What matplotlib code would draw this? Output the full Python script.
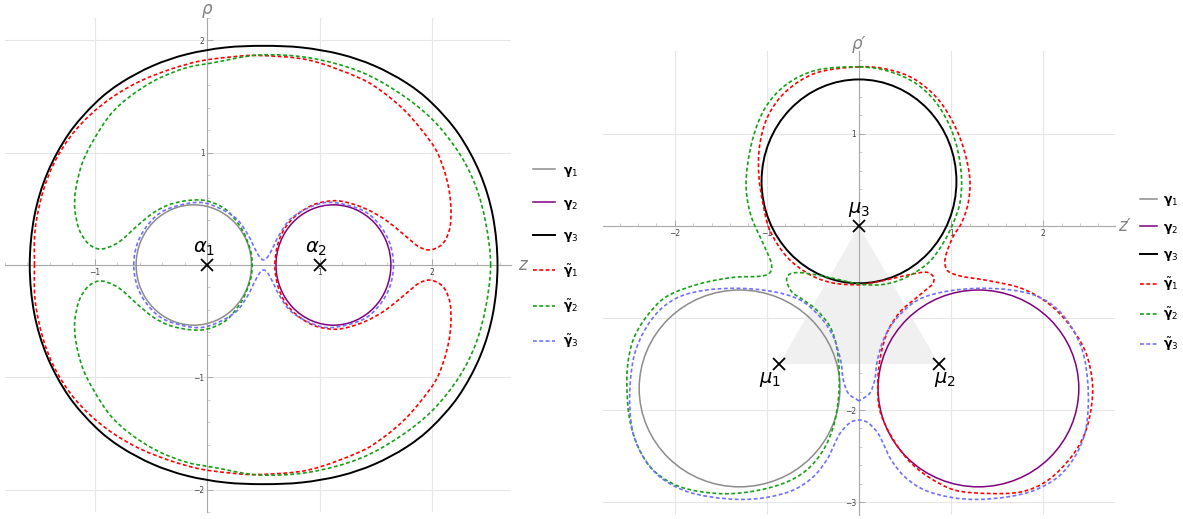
import numpy as np
import matplotlib
matplotlib.use('Agg')
import matplotlib.pyplot as plt
from matplotlib.patches import Ellipse, Polygon, PathPatch
from matplotlib.path import Path
from matplotlib.lines import Line2D
from matplotlib.ticker import FixedLocator, MultipleLocator, FuncFormatter

# ---------------- left panel (z, rho) ----------------
# gamma1, gamma2: centre z, centre rho, half width, half height
g1_left = [-0.121, 0.0, 0.513, 0.536]
g2_left = [1.121, 0.0, 0.511, 0.536]
alpha_z = [0.0, 1.0]
alpha_rho = [0.0, 0.0]
alpha_names = [r'$\alpha_1$', r'$\alpha_2$']

# upper halves (rho >= 0); the plot is mirror symmetric in rho
black_l_z = [-1.580, -1.539, -1.424, -1.233, -0.995, -0.768, -0.484, -0.183, 0.158,
             0.500, 0.842, 1.183, 1.484, 1.768, 1.995, 2.233, 2.424, 2.539, 2.580]
black_l_rho = [0.0, 0.434, 0.817, 1.169, 1.444, 1.623, 1.775, 1.877, 1.937,
               1.952, 1.937, 1.877, 1.775, 1.623, 1.444, 1.169, 0.817, 0.434, 0.0]

red_l_z = [-1.538, -1.532, -1.465, -1.362, -1.215, -1.038, -0.832, -0.597, -0.332, -0.068,
           0.200, 0.457, 0.902, 1.347, 1.560, 1.750, 1.900, 2.030, 2.100, 2.145,
           2.165, 2.160, 2.120, 2.060, 1.970, 1.880, 1.790, 1.674, 1.555, 1.407,
           1.250, 1.120, 0.950, 0.800, 0.690, 0.625, 0.600]
red_l_rho = [0.0, 0.318, 0.644, 0.911, 1.148, 1.341, 1.504, 1.638, 1.742, 1.816,
             1.852, 1.866, 1.825, 1.668, 1.540, 1.380, 1.210, 1.030, 0.860, 0.690,
             0.525, 0.350, 0.230, 0.163, 0.134, 0.163, 0.234, 0.332, 0.421, 0.501,
             0.555, 0.572, 0.540, 0.450, 0.330, 0.180, 0.0]

green_l_z = [2.519, 2.475, 2.386, 2.237, 2.000, 1.703, 1.347, 0.902, 0.457, 0.050,
             -0.185, -0.450, -0.685, -0.862, -1.009, -1.112, -1.171, -1.179, -1.141, -1.068,
             -0.979, -0.891, -0.774, -0.626, -0.479, -0.332, -0.156, 0.000, 0.170, 0.300,
             0.360, 0.390, 0.398]
green_l_rho = [0.0, 0.377, 0.703, 1.000, 1.297, 1.534, 1.727, 1.846, 1.870, 1.801,
               1.757, 1.653, 1.504, 1.341, 1.119, 0.911, 0.674, 0.496, 0.318, 0.199,
               0.145, 0.154, 0.214, 0.347, 0.466, 0.540, 0.576, 0.570, 0.490, 0.330,
               0.200, 0.100, 0.0]

blue_l_z = [-0.655, -0.620, -0.520, -0.374, -0.121, 0.050, 0.250, 0.360, 0.420, 0.465, 0.500,
            0.535, 0.580, 0.640, 0.750, 0.950, 1.121, 1.374, 1.520, 1.620, 1.655]
blue_l_rho = [0.0, 0.200, 0.370, 0.490, 0.556, 0.530, 0.420, 0.270, 0.150, 0.070, 0.045,
              0.070, 0.150, 0.270, 0.420, 0.530, 0.556, 0.490, 0.370, 0.200, 0.0]

# ---------------- right panel (z', rho') ----------------
g1_right = [-1.297, -1.765, 1.090, 1.069]
g2_right = [1.297, -1.765, 1.090, 1.069]
g3_right = [0.0, 0.484, 1.058, 1.107]
mu_z = [-0.866, 0.866, 0.0]
mu_rho = [-1.5, -1.5, 0.0]
mu_names = [r'$\mu_1$', r'$\mu_2$', r'$\mu_3$']

red_r_z = [0.000, 0.318, 0.608, 0.861, 1.042, 1.150, 1.204, 1.186, 1.114, 1.024,
           0.951, 0.933, 0.969, 1.114, 1.403, 1.765, 2.054, 2.271, 2.452, 2.532,
           2.524, 2.452, 2.307, 2.054, 1.765, 1.403, 1.042, 0.752, 0.535, 0.354,
           0.225, 0.205, 0.240, 0.318, 0.450, 0.600, 0.720, 0.800, 0.812, 0.760,
           0.680, 0.500, 0.280, 0.100, 0.000, -0.280, -0.535, -0.789, -0.971, -1.044,
           -1.087, -1.080, -0.989, -0.789, -0.462, 0.000]
red_r_rho = [1.728, 1.699, 1.591, 1.373, 1.083, 0.793, 0.504, 0.250, 0.033, -0.112,
             -0.293, -0.402, -0.493, -0.547, -0.594, -0.678, -0.841, -1.058, -1.348, -1.674,
             -1.964, -2.254, -2.507, -2.761, -2.888, -2.906, -2.870, -2.725, -2.543, -2.290,
             -2.000, -1.674, -1.384, -1.130, -0.930, -0.800, -0.700, -0.630, -0.560, -0.510,
             -0.505, -0.540, -0.590, -0.625, -0.640, -0.620, -0.529, -0.330, -0.040, 0.250,
             0.540, 0.866, 1.192, 1.464, 1.663, 1.728]

green_r_z = [0.000, -0.462, -0.789, -1.007, -1.135, -1.207, -1.225, -1.171, -1.044, -0.953,
             -0.971, -1.080, -1.371, -1.735, -2.091, -2.308, -2.453, -2.514, -2.518, -2.489,
             -2.399, -2.236, -1.946, -1.547, -1.185, -0.822, -0.569, -0.388, -0.279, -0.225,
             -0.214, -0.243, -0.315, -0.460, -0.605, -0.732, -0.786, -0.750, -0.641, -0.460,
             -0.279, 0.000, 0.246, 0.499, 0.752, 0.915, 1.024, 1.096, 1.114, 1.078,
             0.987, 0.825, 0.608, 0.318, 0.000]
green_r_rho = [1.728, 1.692, 1.536, 1.301, 1.011, 0.685, 0.395, 0.105, -0.185, -0.402,
               -0.511, -0.547, -0.560, -0.630, -0.768, -0.986, -1.239, -1.529, -1.819, -2.109,
               -2.399, -2.652, -2.833, -2.906, -2.888, -2.797, -2.652, -2.435, -2.181, -1.891,
               -1.601, -1.312, -1.094, -0.913, -0.804, -0.714, -0.587, -0.522, -0.507, -0.533,
               -0.569, -0.630, -0.638, -0.565, -0.402, -0.185, 0.033, 0.250, 0.504, 0.793,
               1.083, 1.355, 1.554, 1.681, 1.728]

# left half only (symmetric about z' = 0)
blue_r_z = [0.000, -0.025, -0.116, -0.170, -0.200, -0.279, -0.424, -0.641, -0.931, -1.293,
            -1.656, -1.946, -2.163, -2.326, -2.435, -2.482, -2.489, -2.453, -2.344, -2.163,
            -1.909, -1.620, -1.293, -1.004, -0.714, -0.496, -0.351, -0.279, -0.207, -0.098, 0.000]
blue_r_rho = [-1.899, -1.884, -1.819, -1.674, -1.457, -1.203, -0.986, -0.804, -0.714, -0.678,
              -0.696, -0.768, -0.913, -1.130, -1.384, -1.674, -1.964, -2.254, -2.507, -2.725,
              -2.870, -2.942, -2.971, -2.949, -2.870, -2.725, -2.543, -2.399, -2.254, -2.138, -2.109]

legend_names = [r'$\mathbf{\gamma}_1$', r'$\mathbf{\gamma}_2$', r'$\mathbf{\gamma}_3$',
                r'$\tilde{\mathbf{\gamma}}_1$', r'$\tilde{\mathbf{\gamma}}_2$', r'$\tilde{\mathbf{\gamma}}_3$']

C_G1 = '#8c8c8c'
C_G2 = '#800080'
C_G3 = 'black'
C_RED = '#ff0000'
C_GREEN = '#13a013'
C_BLUE = '#6f6fff'
DASH = (0, (2.3, 1.5))


def mirror_rho(z, r):
    z = np.asarray(z); r = np.asarray(r)
    return np.r_[z, z[::-1][1:]], np.r_[r, -r[::-1][1:]]


def mirror_z(z, r):
    z = np.asarray(z); r = np.asarray(r)
    return np.r_[z, -z[::-1][1:]], np.r_[r, r[::-1][1:]]


def smooth_loop(x, y):
    # closed Catmull-Rom curve through the read points, as cubic Bezier segments
    p = np.c_[x, y]
    if np.allclose(p[0], p[-1]):
        p = p[:-1]
    n = len(p)
    verts = [p[0]]
    codes = [Path.MOVETO]
    for i in range(n):
        p0, p1, p2, p3 = p[i - 1], p[i], p[(i + 1) % n], p[(i + 2) % n]
        verts += [p1 + (p2 - p0) / 6.0, p2 - (p3 - p1) / 6.0, p2]
        codes += [Path.CURVE4] * 3
    return Path(verts, codes)


def draw_loop(ax, x, y, color, lw, ls='-'):
    ax.add_patch(PathPatch(smooth_loop(x, y), fill=False, edgecolor=color,
                           linewidth=lw, linestyle=ls, zorder=4))


def tick_fmt(v, pos):
    if abs(v) < 1e-9:
        return ''
    return str(int(round(v))).replace('-', '\u2212')


def setup_axes(ax, xlim, ylim, xlab, ylab):
    ax.set_xlim(*xlim)
    ax.set_ylim(*ylim)
    ax.set_facecolor('none')
    for s in ['top', 'right']:
        ax.spines[s].set_visible(False)
    for s in ['left', 'bottom']:
        ax.spines[s].set_position(('data', 0))
        ax.spines[s].set_color('#a8a8a8')
        ax.spines[s].set_linewidth(0.8)
    xt = list(range(int(np.ceil(xlim[0])), int(np.floor(xlim[1])) + 1))
    yt = list(range(int(np.ceil(ylim[0])), int(np.floor(ylim[1])) + 1))
    ax.xaxis.set_major_locator(FixedLocator(xt))
    ax.yaxis.set_major_locator(FixedLocator(yt))
    ax.xaxis.set_minor_locator(MultipleLocator(0.2))
    ax.yaxis.set_minor_locator(MultipleLocator(0.2))
    ax.xaxis.set_major_formatter(FuncFormatter(tick_fmt))
    ax.yaxis.set_major_formatter(FuncFormatter(tick_fmt))
    ax.tick_params(which='major', direction='in', length=4, width=0.7, color='#a8a8a8',
                   labelsize=5.5, labelcolor='#444444', pad=2)
    ax.tick_params(which='minor', direction='in', length=2, width=0.5, color='#b8b8b8')
    ax.grid(True, which='major', color='#e6e6e6', linewidth=0.8)
    ax.set_axisbelow(True)
    ax.text(0, ylim[1] + 0.08, ylab, ha='center', va='center',
            fontsize=12, color='#808080', style='italic', clip_on=False)
    ax.text(xlim[1] + 0.1, 0, xlab, ha='center', va='center',
            fontsize=12, color='#808080', style='italic', clip_on=False)


def add_ellipse(ax, e, color, lw):
    ax.add_patch(Ellipse((e[0], e[1]), 2 * e[2], 2 * e[3], fill=False,
                         edgecolor=color, linewidth=lw, zorder=3))


fig = plt.figure(figsize=(11.83, 5.19), dpi=100)
W, H = 1183.0, 519.0

# ---- left panel ----
axL = fig.add_axes([5 / W, (H - 512) / H, 506 / W, 494 / H])
setup_axes(axL, (-1.8, 2.7), (-2.2, 2.2), 'z', '\u03c1')
add_ellipse(axL, g1_left, C_G1, 1.1)
add_ellipse(axL, g2_left, C_G2, 1.1)
bz, br = mirror_rho(black_l_z, black_l_rho)
draw_loop(axL, bz, br, C_G3, 1.4)
for zz, rr, c in [(red_l_z, red_l_rho, C_RED), (green_l_z, green_l_rho, C_GREEN),
                  (blue_l_z, blue_l_rho, C_BLUE)]:
    fz, fr = mirror_rho(zz, rr)
    draw_loop(axL, fz, fr, c, 1.2, DASH)
axL.plot(alpha_z, alpha_rho, 'x', color='black', ms=9, mew=1.3, zorder=6)
for zz, rr, t in zip(alpha_z, alpha_rho, alpha_names):
    axL.text(zz - 0.03, rr + 0.06, t, ha='center', va='bottom', fontsize=14, zorder=6)

# ---- right panel ----
axR = fig.add_axes([603 / W, (H - 515) / H, 512 / W, 464 / H])
setup_axes(axR, (-2.78, 2.78), (-3.14, 1.9), 'z\u2032', '\u03c1\u2032')
axR.add_patch(Polygon(np.c_[mu_z, mu_rho], closed=True, facecolor='#f0f0f0',
                      edgecolor='none', zorder=1.5))
add_ellipse(axR, g1_right, C_G1, 1.1)
add_ellipse(axR, g2_right, C_G2, 1.1)
add_ellipse(axR, g3_right, C_G3, 1.4)
draw_loop(axR, red_r_z, red_r_rho, C_RED, 1.2, DASH)
draw_loop(axR, green_r_z, green_r_rho, C_GREEN, 1.2, DASH)
bz, br = mirror_z(blue_r_z, blue_r_rho)
draw_loop(axR, bz, br, C_BLUE, 1.2, DASH)
axR.plot(mu_z, mu_rho, 'x', color='black', ms=9, mew=1.3, zorder=6)
mu_off = [(-0.1, -0.06, 'top'), (0.07, -0.06, 'top'), (0.0, 0.07, 'bottom')]
for zz, rr, t, (dz, dr, va) in zip(mu_z, mu_rho, mu_names, mu_off):
    axR.text(zz + dz, rr + dr, t, ha='center', va=va, fontsize=14, zorder=6)


# ---- legends ----
def make_handles():
    return [Line2D([], [], color=C_G1, lw=1.1),
            Line2D([], [], color=C_G2, lw=1.1),
            Line2D([], [], color=C_G3, lw=1.4),
            Line2D([], [], color=C_RED, lw=1.2, linestyle=DASH),
            Line2D([], [], color=C_GREEN, lw=1.2, linestyle=DASH),
            Line2D([], [], color=C_BLUE, lw=1.2, linestyle=DASH)]


fig.legend(make_handles(), legend_names, loc='center left',
           bbox_to_anchor=(533 / W, 1 - 257 / H), frameon=False, fontsize=9,
           handlelength=1.76, handletextpad=0.64, labelspacing=1.43, borderpad=0,
           borderaxespad=0)
fig.legend(make_handles(), legend_names, loc='center left',
           bbox_to_anchor=(1140 / W, 1 - 273 / H), frameon=False, fontsize=9,
           handlelength=1.36, handletextpad=0.48, labelspacing=1.0, borderpad=0,
           borderaxespad=0)

fig.savefig('out.png', dpi=100)
